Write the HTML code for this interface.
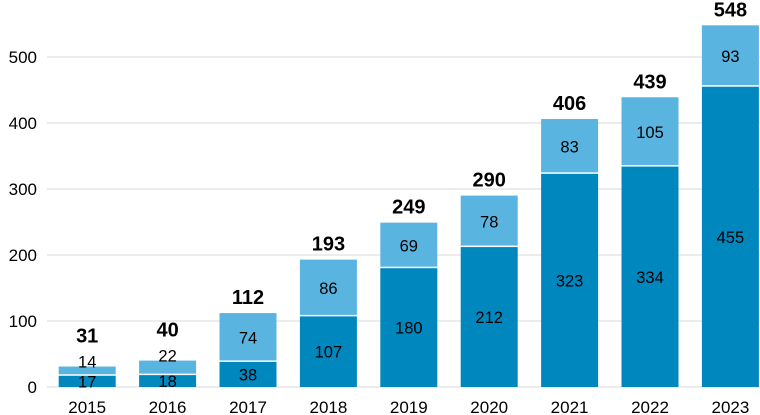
<!DOCTYPE html>
<html><head><meta charset="utf-8"><style>
body{margin:0;background:#fff;}
svg{display:block;font-family:"Liberation Sans",Arial,sans-serif;}
</style></head><body>
<svg id="chart" width="760" height="415"></svg>
<script>
const categories=["2015","2016","2017","2018","2019","2020","2021","2022","2023"];
const lowerValues=[17,18,38,107,180,212,323,334,455];
const upperValues=[14,22,74,86,69,78,83,105,93];
const totals=[31,40,112,193,249,290,406,439,548];
const yTicks=[0,100,200,300,400,500];
const NS="http://www.w3.org/2000/svg";
const svg=document.getElementById('chart');
const y0=387,pxPer=0.66,x0=47,step=80.4,bw=57;
const y=v=>y0-v*pxPer;
const xc=i=>x0+step*(i+0.5);
function mk(t,a,txt){const e=document.createElementNS(NS,t);for(const k in a)e.setAttribute(k,a[k]);if(txt!==undefined)e.textContent=txt;svg.appendChild(e);return e;}
yTicks.forEach(t=>{
 const g=mk('line',{x1:x0,x2:760,y1:y(t),y2:y(t),stroke:'#d9d9d9','stroke-width':1});
 
 
 const l=mk('text',{x:37,y:y(t)+6,'text-anchor':'end','font-size':17,fill:'#000'},t);
 
 
});
categories.forEach((c,i)=>{
 const cx=xc(i),lo=lowerValues[i],up=upperValues[i];
 const small=up*pxPer<20;
 const r1=mk('rect',{x:cx-bw/2,y:y(lo),width:bw,height:lo*pxPer,fill:'#0088be'});
 
 
 const r2=mk('rect',{x:cx-bw/2,y:y(lo+up),width:bw,height:up*pxPer-1.5,fill:'#5ab4e0'});
 
 
 const t1=mk('text',{x:cx,y:y(lo/2)+6,'text-anchor':'middle','font-size':16.5,fill:'#000'},lo);
 
 
 const uy=small?y(lo+up)+1:y(lo+up/2)+6;
 const t2=mk('text',{x:cx,y:uy,'text-anchor':'middle','font-size':16.5,fill:'#000'},up);
 
 
 const ty=small?y(totals[i])-24:y(totals[i])-9;
 const t3=mk('text',{x:cx,y:ty,'text-anchor':'middle','font-size':20,'font-weight':'bold',fill:'#000'},totals[i]);
 
 
 const t4=mk('text',{x:cx,y:413,'text-anchor':'middle','font-size':17,fill:'#000'},c);
 
 
});
</script>
</body></html>
